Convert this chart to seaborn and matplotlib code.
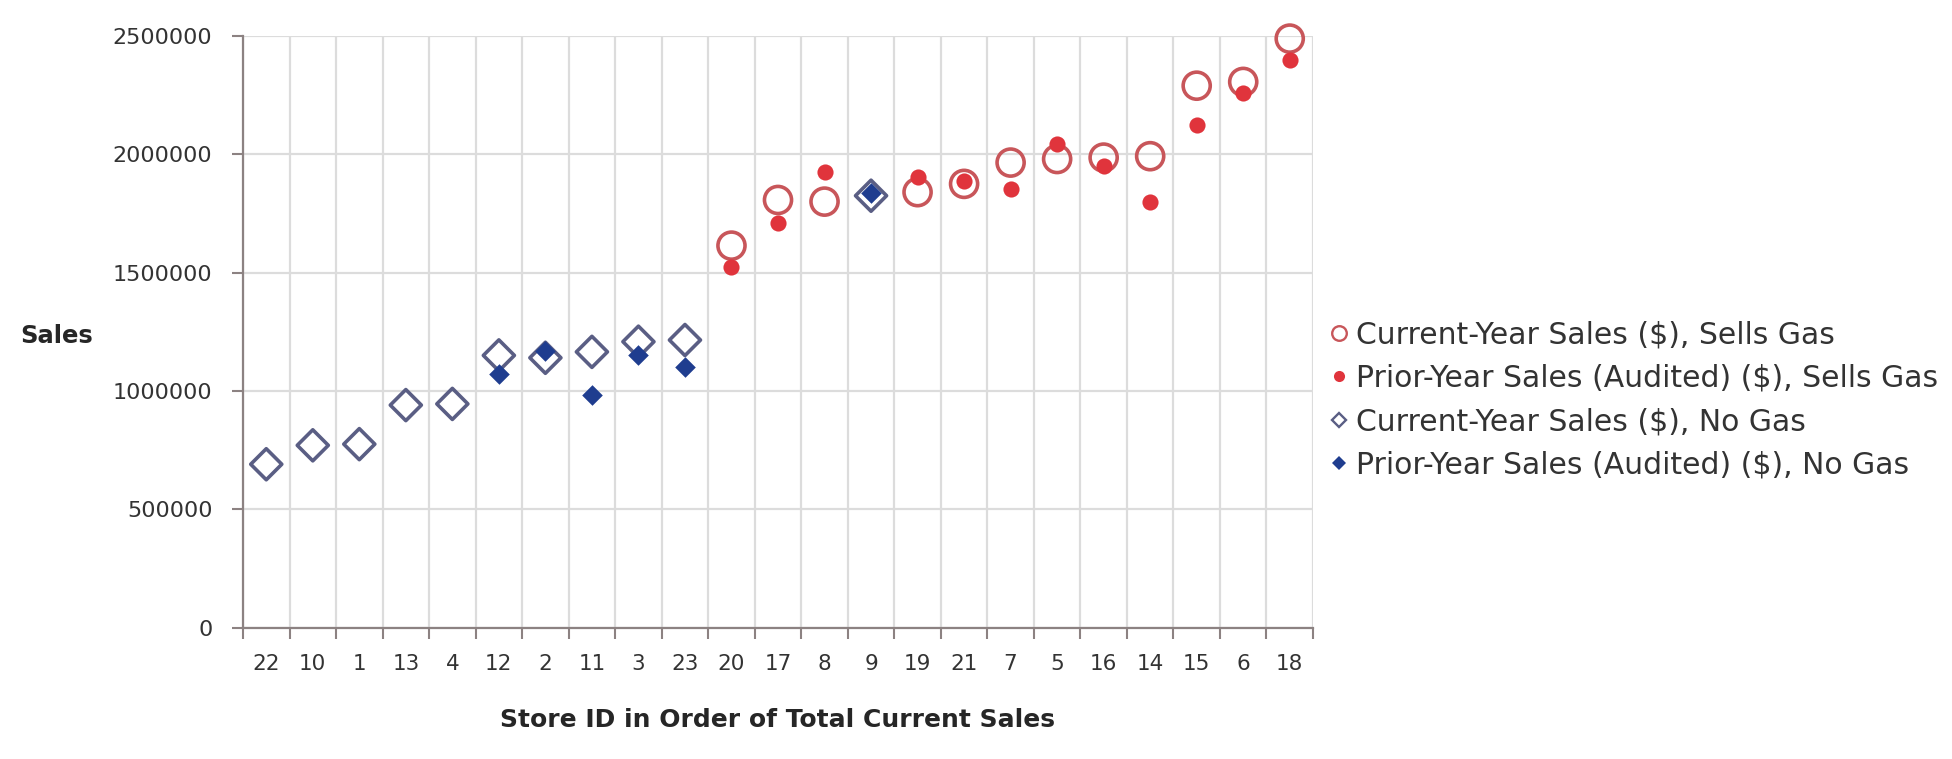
import numpy as np
import pandas as pd
import matplotlib
matplotlib.use("Agg")
import matplotlib.pyplot as plt
from matplotlib.lines import Line2D
from matplotlib.ticker import FixedLocator
import seaborn as sns

# ---------------- data ----------------
stores = [22, 10, 1, 13, 4, 12, 2, 11, 3, 23, 20, 17, 8, 9, 19, 21, 7, 5, 16, 14, 15, 6, 18]
current_sales = [690000, 770000, 775000, 940000, 945000, 1150000, 1140000, 1165000,
                 1208000, 1215000, 1614000, 1807000, 1800000, 1825000, 1840000, 1875000,
                 1965000, 1980000, 1986000, 1992000, 2290000, 2306000, 2489000]
prior_sales = [np.nan, np.nan, np.nan, np.nan, np.nan, 1073000, 1168000, 981000,
               1151000, 1100000, 1522000, 1710000, 1924000, 1836000, 1904000, 1889000,
               1853000, 2045000, 1952000, 1800000, 2122000, 2257000, 2398000]
sells_gas = [False, False, False, False, False, False, False, False, False, False,
             True, True, True, False, True, True, True, True, True, True, True, True, True]
y_ticks = [0, 500000, 1000000, 1500000, 2000000, 2500000]
series_labels = ["Current-Year Sales ($), Sells Gas",
                 "Prior-Year Sales (Audited) ($), Sells Gas",
                 "Current-Year Sales ($), No Gas",
                 "Prior-Year Sales (Audited) ($), No Gas"]

df = pd.DataFrame({"store": stores, "current": current_sales,
                   "prior": prior_sales, "gas": sells_gas})
df["pos"] = np.arange(len(df))
gas = df[df["gas"]]
nogas = df[~df["gas"]]

# ---------------- style ----------------
sns.set_theme(style="white")
plt.rcParams["font.family"] = ["DejaVu Sans"]

RED_OPEN = "#c8565a"
RED_FILL = "#e0343c"
BLUE_OPEN = "#5a5e84"
BLUE_FILL = "#1f3d8f"
SPINE = "#8c8282"
GRID = "#dcdcdc"
TXT = "#333333"

W, H = 1952, 759
fig = plt.figure(figsize=(W / 100, H / 100), dpi=100)
left, right, top, bottom = 243, 1313, 36, 627.5
ax = fig.add_axes([left / W, 1 - bottom / H, (right - left) / W, (bottom - top) / H])

# ---------------- marks ----------------
sns.scatterplot(data=gas, x="pos", y="current", ax=ax, marker="o", s=380,
                facecolor="none", edgecolor=RED_OPEN, linewidth=2.6,
                clip_on=False, zorder=3, legend=False)
sns.scatterplot(data=gas, x="pos", y="prior", ax=ax, marker="o", s=135,
                color=RED_FILL, linewidth=0, clip_on=False, zorder=4, legend=False)
sns.scatterplot(data=nogas, x="pos", y="current", ax=ax, marker="D", s=250,
                facecolor="none", edgecolor=BLUE_OPEN, linewidth=2.6,
                clip_on=False, zorder=3, legend=False)
sns.scatterplot(data=nogas, x="pos", y="prior", ax=ax, marker="D", s=110,
                color=BLUE_FILL, linewidth=0, clip_on=False, zorder=4, legend=False)

# ---------------- axes ----------------
n = len(stores)
ax.set_xlim(-0.5, n - 0.5)
ax.set_ylim(y_ticks[0], y_ticks[-1])
ax.set_yticks(y_ticks)
ax.set_yticklabels([str(v) for v in y_ticks])
ax.set_xticks(df["pos"])
ax.set_xticklabels([str(s) for s in stores])
ax.xaxis.set_minor_locator(FixedLocator(np.arange(-0.5, n, 1.0)))

ax.grid(False)
ax.grid(True, which="minor", axis="x", color=GRID, linewidth=1.6)
ax.grid(True, which="major", axis="y", color=GRID, linewidth=1.6)
ax.set_axisbelow(True)

for side in ["top", "right"]:
    ax.spines[side].set_visible(False)
for side in ["left", "bottom"]:
    ax.spines[side].set_color(SPINE)
    ax.spines[side].set_linewidth(1.6)

ax.tick_params(axis="x", which="major", length=0, pad=19, labelsize=15.5, labelcolor=TXT)
ax.tick_params(axis="x", which="minor", length=8, width=1.5, color=SPINE, direction="out", bottom=True)
ax.tick_params(axis="y", which="major", length=8, width=1.5, color=SPINE, direction="out",
               left=True, pad=14, labelsize=16, labelcolor=TXT)

ax.set_xlabel("Store ID in Order of Total Current Sales", fontsize=18,
              fontweight="bold", color="#262626")
ax.xaxis.set_label_coords(0.5, (bottom - 720) / (bottom - top))
ax.xaxis.label.set_va("center")
ax.set_ylabel("Sales", fontsize=17.5, fontweight="bold", color="#262626", rotation=0)
ax.yaxis.set_label_coords((57 - left) / (right - left), (bottom - 336) / (bottom - top))
ax.yaxis.label.set_va("center")
ax.yaxis.label.set_ha("center")

# ---------------- legend ----------------
handles = [
    Line2D([], [], ls="", marker="o", ms=10.5, mfc="none", mec=RED_OPEN, mew=1.7),
    Line2D([], [], ls="", marker="o", ms=8, mfc=RED_FILL, mec=RED_FILL, mew=0),
    Line2D([], [], ls="", marker="D", ms=7.5, mfc="none", mec=BLUE_OPEN, mew=1.7),
    Line2D([], [], ls="", marker="D", ms=7, mfc=BLUE_FILL, mec=BLUE_FILL, mew=0),
]
fig.legend(handles, series_labels, loc="center left",
           bbox_to_anchor=(1331 / W, 1 - 400 / H), frameon=False,
           fontsize=21.5, labelcolor=TXT, handlelength=0.55, handletextpad=0.3,
           labelspacing=0.49, borderpad=0, borderaxespad=0)

fig.savefig("out.png", dpi=100, facecolor="white")
